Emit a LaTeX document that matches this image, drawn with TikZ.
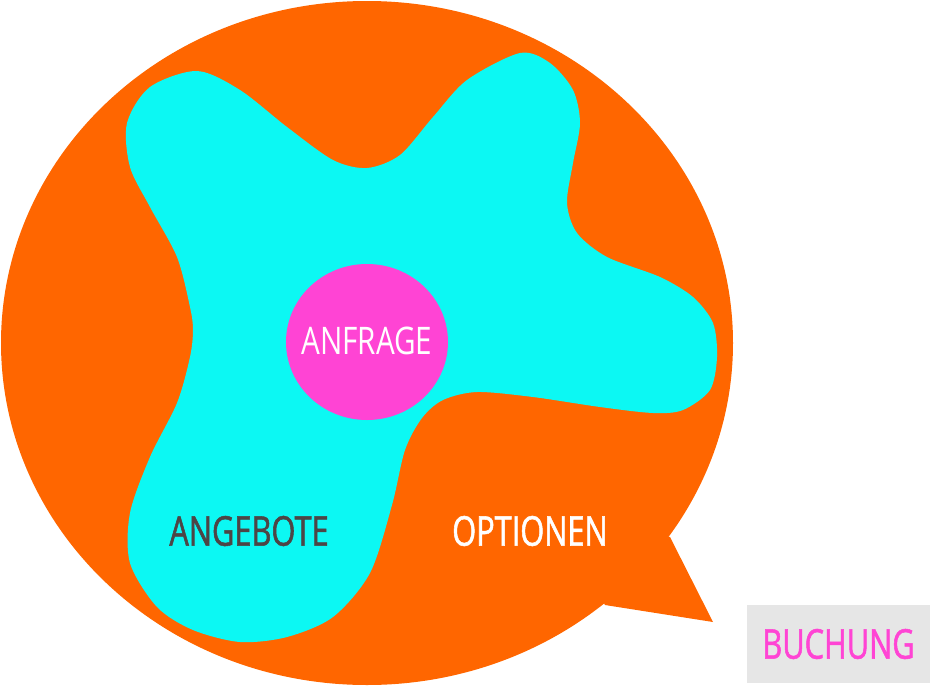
\documentclass[tikz,border=0pt]{standalone}
\usepackage{fontspec}
\setmainfont{Open Sans}[FakeStretch=0.78]
\newfontfamily\kraeftig{Open Sans}[FakeStretch=0.75, FakeBold=1.3]
\usetikzlibrary{positioning}
\usetikzlibrary{shapes}
\definecolor{bubble}{HTML}{FF6600}
\definecolor{blob}{HTML}{0CF8F3}
\definecolor{rosa}{HTML}{FF44D4}
\definecolor{dunkel}{HTML}{4D4545}
\definecolor{grau}{HTML}{E6E6E6}

\begin{document}
\begin{tikzpicture}[x=1pt, y=-1pt, lbl/.style={font=\kraeftig\fontsize{41}{41}\selectfont, inner sep=0pt}]
            \useasboundingbox (0,0) rectangle (930,686);
            \fill[bubble] (367,343) ellipse [x radius=366, y radius=342];
            \fill[bubble] (670,537) -- (713,622) -- (605,605) -- (560,520) -- cycle;
            \fill[blob] plot[smooth cycle, tension=0.5] coordinates {
                (197,71) (240,90) (287,127) (333,160) (367,168) (400,155)
                (433,117) (467,80) (520,53) (550,63) (573,90) (580,123)
                (573,163) (567,203) (577,233) (607,257) (660,277) (693,297)
                (713,323) (717,357) (710,390) (683,410) (653,413) (600,407)
                (533,397) (477,392) (443,400) (422,418) (405,450) (392,505)
                (370,573) (333,617) (287,637) (240,642) (193,630) (157,607)
                (130,563) (130,513) (150,457) (177,403) (190,357) (193,330)
                (190,307) (177,257) (150,207) (130,167) (127,123) (150,87)};
            \fill[rosa] (367,342) ellipse [x radius=81, y radius=78];

            \node[inner sep=0pt, text=white, font=\fontsize{38}{38}\selectfont] (anfrage) at (367,341) {ANFRAGE};
            \node[lbl, text=dunkel] (angebote) at (249,531) {ANGEBOTE};
            \node[lbl, text=white] (optionen) at (530,531) {OPTIONEN};
            \node[lbl, fill=grau, text=rosa, minimum width=183, minimum height=78] (buchung) at (838.5,644) {BUCHUNG};
        \end{tikzpicture}
\end{document}
